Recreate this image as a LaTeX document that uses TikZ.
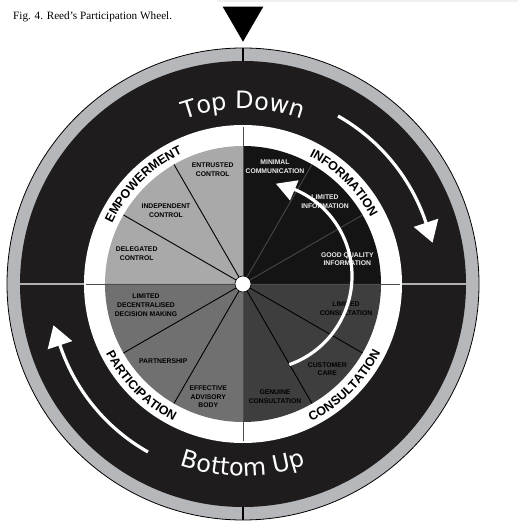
\documentclass[tikz,border=0pt]{standalone}
\usepackage{fontspec}
\setmainfont{Liberation Serif}
\newfontfamily\wheelfont{DejaVu Sans}
\newfontfamily\labfont{Liberation Sans}
\usetikzlibrary{decorations.text}
\definecolor{ringblack}{HTML}{1E1C1D}
\definecolor{ringgray}{HTML}{B6B7BA}
\definecolor{qEmp}{HTML}{A9A9A9}
\definecolor{qInf}{HTML}{141414}
\definecolor{qCon}{HTML}{3E3E3E}
\definecolor{qPar}{HTML}{707070}
\definecolor{divgray}{HTML}{B0B0B2}
\begin{document}
\begin{tikzpicture}[x=1pt,y=1pt,
  sectortxt/.style={font=\labfont\bfseries\fontsize{6.8}{8.7}\selectfont, align=center, inner sep=0pt},
  spoke/.style={line width=0.9pt, draw=black},
  bigarrow/.style={draw=white, line width=3.2pt},
  ringlab/.style={decorate, decoration={text along path, text align=center, text color=black,
     text={|\labfont\bfseries\fontsize{12.5}{14}\selectfont|#1}}},
  biglab/.style={decorate, decoration={text along path, text align=center, text color=white,
     text={|\wheelfont\fontsize{24}{28}\selectfont|#1}}}
]
\useasboundingbox (-243,-237) rectangle (275,284);
% faint page strip
\fill[gray!12] (-26,281.5) rectangle (275,284);
% caption
\node[anchor=base west, inner sep=0pt, font=\fontsize{11.2}{13}\selectfont] (cap) at (-230,264) {Fig. 4. Reed's Participation Wheel.};
% pointer triangle
\fill[black] (-20.3,277.3) -- (20.3,277.3) -- (0,242.3) -- cycle;
% outer rings
\fill[ringgray] (0,0) circle (236);
\draw[black, line width=0.8pt] (0,0) circle (236);
\fill[ringblack] (0,0) circle (223);
% dividers in outer rings
\draw[black, line width=2.6pt] (90:223) -- (90:236);
\draw[black, line width=2.6pt] (270:223) -- (270:236);
\draw[divgray, line width=2.4pt] (0:159) -- (0:223);
\draw[divgray, line width=2.4pt] (180:159) -- (180:223);
% white ring
\fill[white] (0,0) circle (159);
% quadrants
\fill[qInf] (0,0) -- (0:138) arc[start angle=0, end angle=90, radius=138] -- cycle;
\fill[qEmp] (0,0) -- (90:138) arc[start angle=90, end angle=180, radius=138] -- cycle;
\fill[qPar] (0,0) -- (180:138) arc[start angle=180, end angle=270, radius=138] -- cycle;
\fill[qCon] (0,0) -- (270:138) arc[start angle=270, end angle=360, radius=138] -- cycle;
% spokes
\draw[spoke, draw=black!72] (0,0) -- (30:138);
\draw[spoke, draw=black!72] (0,0) -- (60:138);
\foreach \a in {120,150,210,240,300,330} \draw[spoke] (0,0) -- (\a:138);
% cross lines
\draw[black!70, line width=0.8pt] (-157,0) -- (157,0);
\draw[black!70, line width=0.8pt] (0,-157) -- (0,157);
% sector texts
\node[sectortxt] (s1) at (-30.3,114) {ENTRUSTED\\CONTROL};
\node[sectortxt] (s2) at (-77,73.3) {INDEPENDENT\\CONTROL};
\node[sectortxt] (s3) at (-106.3,30) {DELEGATED\\CONTROL};
\node[sectortxt, text=black!8] (s4) at (32,117.3) {MINIMAL\\COMMUNICATION};
\node[sectortxt, text=black!8] (s5) at (82,82.3) {LIMITED\\INFORMATION};
\node[sectortxt, text=black!8] (s6) at (104.3,24.7) {GOOD QUALITY\\INFORMATION};
\node[sectortxt] (s7) at (103,-25) {LIMITED\\CONSULTATION};
\node[sectortxt] (s8) at (84.3,-85.3) {CUSTOMER\\CARE};
\node[sectortxt] (s9) at (32,-112.7) {GENUINE\\CONSULTATION};
\node[sectortxt] (s10) at (-97,-21) {LIMITED\\DECENTRALISED\\DECISION MAKING};
\node[sectortxt] (s11) at (-79.7,-77) {PARTNERSHIP};
\node[sectortxt] (s12) at (-34.7,-112.7) {EFFECTIVE\\ADVISORY\\BODY};
% ring labels
\path[ringlab=EMPOWERMENT] (180:144) arc[start angle=180, end angle=90, radius=144];
\path[ringlab=INFORMATION] (90:144) arc[start angle=90, end angle=0, radius=144];
\path[ringlab=PARTICIPATION] (180:153.5) arc[start angle=180, end angle=270, radius=153.5];
\path[ringlab=CONSULTATION] (270:153.5) arc[start angle=270, end angle=360, radius=153.5];
% big labels
\path[biglab=Top Down] (140:175) arc[start angle=140, end angle=40, radius=175];
\path[biglab=Bottom Up] (220:192) arc[start angle=220, end angle=320, radius=192];
% outer arrows
\draw[bigarrow] (60.5:193) arc[start angle=60.5, end angle=17.5, radius=193];
\fill[white] (18.5:180) -- (18.5:206) -- (12.3:194) -- cycle;
\draw[bigarrow] (240.5:193) arc[start angle=240.5, end angle=197.5, radius=193];
\fill[white] (198.5:180) -- (198.5:206) -- (192.3:194) -- cycle;
% inner arrow
\begin{scope}[shift={(15,8)}]
\draw[bigarrow] (-70.5:94) arc[start angle=-70.5, end angle=68, radius=94];
\fill[white] (67:82) -- (67:104) -- (79:94) -- cycle;
\end{scope}
% hub
\draw[fill=white, draw=black, line width=0.6pt] (0,0) circle (8);
\end{tikzpicture}
\end{document}
